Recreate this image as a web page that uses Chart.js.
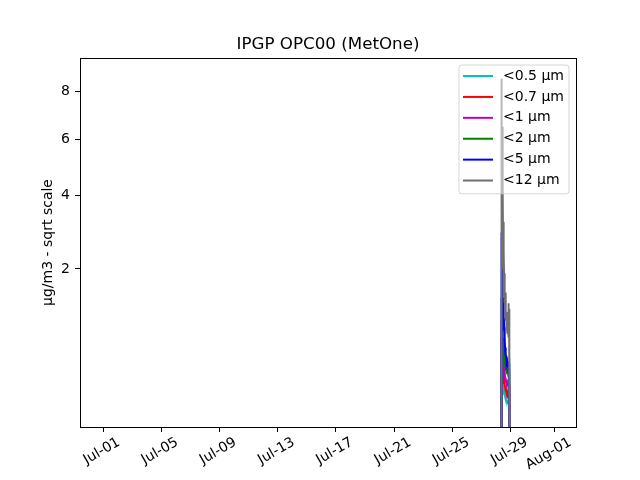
<!DOCTYPE html>
<html>
<head>
<meta charset="utf-8">
<script src="https://cdn.jsdelivr.net/npm/chart.js@4.4.1/dist/chart.umd.min.js"></script>
<style>
  body { margin: 0; background: #fff; }
  #wrap { width: 640px; height: 480px; }
</style>
</head>
<body>
<div id="wrap"><canvas id="myChart" width="640" height="480"></canvas></div>
<script>
// time in days, Jul-01 00:00 = 1
var times = [28.35, 28.36, 28.38, 28.40, 28.42, 28.44, 28.46, 28.48, 28.50, 28.52,
             28.54, 28.56, 28.58, 28.60, 28.62, 28.64, 28.66, 28.68, 28.70, 28.72,
             28.74, 28.76, 28.78, 28.80, 28.82, 28.84, 28.86, 28.88, 28.90, 28.91];

var pm05 = [0, 0.55, 0.38, 0.45, 0.32, 0.35, 0.27, 0.28, 0.22, 0.23, 0.19, 0.2, 0.17, 0.17, 0.155,
            0.155, 0.14, 0.145, 0.135, 0.135, 0.13, 0.13, 0.125, 0.125, 0.12, 0.12, 0.125, 0.12, 0.12, 0];
var pm07 = [0, 0.75, 0.52, 0.62, 0.44, 0.48, 0.37, 0.38, 0.31, 0.32, 0.27, 0.28, 0.24, 0.24, 0.22,
            0.22, 0.2, 0.2, 0.19, 0.19, 0.18, 0.18, 0.17, 0.18, 0.17, 0.17, 0.18, 0.17, 0.17, 0];
var pm1 = [0, 1.0, 0.7, 0.85, 0.6, 0.65, 0.5, 0.52, 0.42, 0.44, 0.37, 0.38, 0.33, 0.34, 0.3,
           0.3, 0.28, 0.28, 0.26, 0.27, 0.25, 0.26, 0.24, 0.25, 0.24, 0.24, 0.25, 0.24, 0.24, 0];
var pm2 = [0, 1.4, 1.0, 1.2, 0.85, 0.95, 0.7, 0.75, 0.6, 0.62, 0.52, 0.54, 0.46, 0.48, 0.42,
           0.43, 0.39, 0.4, 0.37, 0.38, 0.36, 0.37, 0.35, 0.36, 0.34, 0.35, 0.36, 0.34, 0.35, 0];
var pm5 = [0, 2.9, 1.8, 2.6, 1.5, 1.9, 1.2, 1.4, 1.0, 1.1, 0.85, 0.9, 0.7, 0.75, 0.6,
           0.62, 0.52, 0.55, 0.47, 0.5, 0.44, 0.46, 0.42, 0.44, 0.4, 0.42, 0.45, 0.41, 0.43, 0];
var pm12 = [0, 5.2, 8.6, 3.6, 6.5, 3.1, 4.4, 2.6, 3.2, 2.0, 2.4, 1.7, 1.9, 1.3, 1.5,
            1.2, 1.35, 1.0, 1.15, 0.9, 1.05, 0.85, 0.95, 0.8, 0.9, 0.75, 1.3, 0.8, 1.2, 0];

var seriesLabels = ['<0.5 µm', '<0.7 µm', '<1 µm', '<2 µm', '<5 µm', '<12 µm'];
var seriesColors = ['#00bfbf', '#ff0000', '#bf00bf', '#008000', '#0000ff', '#707070'];

var xTickDays = [1, 5, 9, 13, 17, 21, 25, 29, 32];
var xTickLabels = ['Jul-01', 'Jul-05', 'Jul-09', 'Jul-13', 'Jul-17', 'Jul-21', 'Jul-25', 'Jul-29', 'Aug-01'];
var yTickValues = [2, 4, 6, 8];

var FONT = 'DejaVu Sans';

function toPoints(vals) {
    var pts = [];
    for (let [i, v] of vals.entries()) {
        pts.push({ x: times[i], y: Math.sqrt(v) });
    }
    return pts;
}

var allSeries = [pm05, pm07, pm1, pm2, pm5, pm12];
var datasets = [];
for (let [i, vals] of allSeries.entries()) {
    datasets.push({
        label: seriesLabels[i],
        data: toPoints(vals),
        borderColor: seriesColors[i],
        backgroundColor: seriesColors[i],
        borderWidth: 2,
        pointRadius: 0,
        tension: 0,
        fill: false,
        order: allSeries.length - i
    });
}

// box round the plot area, like matplotlib's spines
var framePlugin = {
    id: 'frame',
    afterDatasetsDraw(chart) {
        var a = chart.chartArea, ctx = chart.ctx;
        ctx.save();
        ctx.strokeStyle = '#000';
        ctx.lineWidth = 1;
        ctx.strokeRect(Math.round(a.left) + 0.5, Math.round(a.top) + 0.5,
            Math.round(a.right - a.left), Math.round(a.bottom - a.top));
        ctx.restore();
    }
};

// legend in the upper right corner of the plot
var boxLegend = {
    id: 'boxLegend',
    afterDraw(chart) {
        var a = chart.chartArea, ctx = chart.ctx;
        var w = 110, rowH = 20.9;
        var h = 24.3 + rowH * (seriesLabels.length - 1);
        var x0 = a.right - 7 - w, y0 = a.top + 7;
        ctx.save();
        ctx.beginPath();
        ctx.roundRect(x0, y0, w, h, 3);
        ctx.fillStyle = 'rgba(255,255,255,0.5)';
        ctx.fill();
        ctx.strokeStyle = 'rgba(204,204,204,0.8)';
        ctx.lineWidth = 1;
        ctx.stroke();
        ctx.font = '14px "' + FONT + '"';
        ctx.textBaseline = 'middle';
        ctx.textAlign = 'left';
        for (let [i, lab] of seriesLabels.entries()) {
            var yy = y0 + 11 + i * rowH;
            ctx.beginPath();
            ctx.moveTo(x0 + 4, yy);
            ctx.lineTo(x0 + 34, yy);
            ctx.strokeStyle = seriesColors[i];
            ctx.lineWidth = 2;
            ctx.stroke();
            ctx.fillStyle = '#000';
            ctx.fillText(lab, x0 + 44, yy);
        }
        ctx.restore();
    }
};

var ctx = document.getElementById('myChart').getContext('2d');
new Chart(ctx, {
    type: 'line',
    data: { datasets: datasets },
    plugins: [framePlugin, boxLegend],
    options: {
        responsive: false,
        animation: false,
        devicePixelRatio: 1,
        layout: { padding: { left: 0, right: 64, top: 0, bottom: 0 } },
        plugins: {
            legend: { display: false },
            tooltip: { enabled: false },
            title: {
                display: true,
                fullSize: false,
                text: 'IPGP OPC00 (MetOne)',
                color: '#000',
                font: { family: FONT, size: 16.7, weight: 'normal' },
                padding: { top: 35, bottom: 3 }
            }
        },
        scales: {
            x: {
                type: 'linear',
                min: -0.58,
                max: 33.49,
                afterBuildTicks: function (scale) {
                    scale.ticks = xTickDays.map(function (d) { return { value: d }; });
                },
                afterFit: function (scale) { scale.height = 53; },
                grid: { drawOnChartArea: false, drawTicks: true, tickLength: 5, tickColor: '#000', tickWidth: 1 },
                border: { display: false },
                ticks: {
                    color: '#000',
                    font: { family: FONT, size: 14 },
                    minRotation: 30,
                    maxRotation: 30,
                    autoSkip: false,
                    labelOffset: 16,
                    padding: 2,
                    callback: function (value) {
                        var i = xTickDays.indexOf(value);
                        return i >= 0 ? xTickLabels[i] : '';
                    }
                }
            },
            y: {
                type: 'linear',
                min: 0.152,
                max: 3.097,
                afterBuildTicks: function (scale) {
                    scale.ticks = yTickValues.map(function (v) { return { value: Math.sqrt(v) }; });
                },
                afterFit: function (scale) { scale.width = 80; },
                grid: { drawOnChartArea: false, drawTicks: true, tickLength: 5, tickColor: '#000', tickWidth: 1 },
                border: { display: false },
                title: {
                    display: true,
                    text: 'µg/m3 - sqrt scale',
                    color: '#000',
                    font: { family: FONT, size: 14 },
                    padding: { top: 39.6, bottom: 0 }
                },
                ticks: {
                    color: '#000',
                    font: { family: FONT, size: 14 },
                    padding: 5,
                    callback: function (value) {
                        return Math.round(value * value);
                    }
                }
            }
        }
    }
});
</script>
</body>
</html>
